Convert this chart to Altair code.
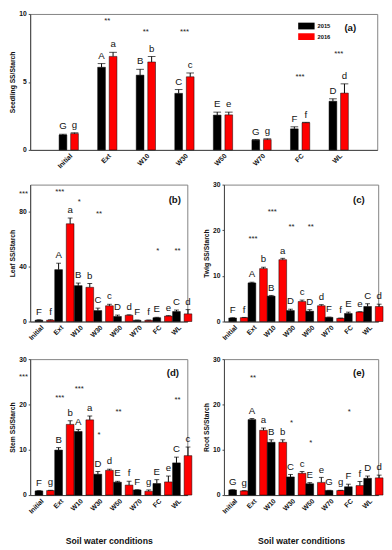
import altair as alt
import pandas as pd

categories = ["Initial", "Ext", "W10", "W30", "W50", "W70", "FC", "WL"]
years = ["2015", "2016"]

# (a) Seedling
seed_m15 = [1.10, 6.08, 5.50, 4.16, 2.56, 0.72, 1.55, 3.58]
seed_e15 = [0.06, 0.27, 0.43, 0.28, 0.22, 0.05, 0.15, 0.18]
seed_m16 = [1.20, 6.88, 6.47, 5.38, 2.58, 0.76, 2.00, 4.18]
seed_e16 = [0.06, 0.30, 0.40, 0.28, 0.20, 0.06, 0.03, 0.68]
seed_l15 = ["G", "A", "B", "C", "E", "G", "F", "D"]
seed_l16 = ["g", "a", "b", "c", "e", "g", "f", "d"]
seed_star_cat = ["Ext", "W10", "W30", "FC", "WL"]
seed_star_lab = ["**", "**", "***", "***", "***"]
seed_star_y = [9.5, 8.7, 8.7, 5.35, 7.05]

# (b) Leaf
leaf_m15 = [1.0, 37.9, 26.2, 8.0, 3.7, 0.9, 2.8, 7.3]
leaf_e15 = [0.3, 4.7, 1.9, 1.8, 1.0, 0.2, 0.3, 1.1]
leaf_m16 = [1.0, 71.4, 25.0, 11.5, 4.6, 0.9, 4.0, 5.6]
leaf_e16 = [0.3, 4.2, 2.8, 1.1, 0.3, 0.2, 0.3, 3.1]
leaf_l15 = ["F", "A", "B", "C", "D", "F", "E", "C"]
leaf_l16 = ["f", "a", "b", "c", "d", "f", "e", "d"]
leaf_star_cat = ["Ext", "W10", "W30", "FC", "WL"]
leaf_star_lab = ["***", "*", "**", "*", "**"]
leaf_star_y = [94.8, 87.0, 78.5, 51.3, 51.5]
leaf_side_lab = ["***"]
leaf_side_y = [93.0]

# (c) Twig
twig_m15 = [0.78, 8.47, 5.57, 2.40, 2.26, 0.92, 1.76, 3.30]
twig_e15 = [0.05, 0.15, 0.15, 0.30, 0.34, 0.05, 0.30, 0.60]
twig_m16 = [0.85, 11.6, 13.55, 4.38, 3.46, 0.70, 2.10, 3.30]
twig_e16 = [0.05, 0.30, 0.30, 0.32, 0.24, 0.05, 0.05, 0.50]
twig_l15 = ["F", "A", "B", "D", "D", "F", "E", "C"]
twig_l16 = ["f", "b", "a", "c", "d", "f", "e", "d"]
twig_star_cat = ["Ext", "W10", "W30", "W50"]
twig_star_lab = ["***", "***", "**", "**"]
twig_star_y = [18.1, 23.9, 20.6, 20.6]

# (d) Stem
stem_m15 = [0.92, 9.93, 14.04, 4.60, 2.84, 1.13, 2.55, 7.10]
stem_e15 = [0.05, 0.55, 0.45, 0.60, 0.20, 0.05, 0.85, 1.27]
stem_m16 = [1.00, 15.6, 16.6, 5.46, 2.20, 0.85, 2.90, 8.70]
stem_e16 = [0.05, 0.80, 0.85, 0.25, 0.85, 0.28, 1.30, 1.90]
stem_l15 = ["F", "B", "A", "D", "E", "F", "E", "C"]
stem_l16 = ["g", "b", "a", "d", "f", "g", "e", "c"]
stem_star_cat = ["Ext", "W10", "W30", "W50", "WL"]
stem_star_lab = ["***", "***", "*", "**", "**"]
stem_star_y = [21.5, 23.5, 13.3, 18.4, 21.0]
stem_side_lab = ["***"]
stem_side_y = [26.0]

# (e) Root
root_m15 = [1.13, 16.65, 11.65, 4.00, 2.50, 1.00, 1.83, 3.70]
root_e15 = [0.05, 0.25, 0.55, 0.55, 0.25, 0.05, 0.57, 0.50]
root_m16 = [0.92, 14.3, 11.65, 4.80, 2.80, 1.00, 2.10, 3.80]
root_e16 = [0.05, 0.50, 0.55, 0.40, 1.10, 0.05, 0.90, 0.60]
root_l15 = ["G", "A", "B", "C", "E", "G", "F", "D"]
root_l16 = ["g", "a", "b", "c", "e", "g", "f", "d"]
root_star_cat = ["Ext", "W30", "W50", "FC"]
root_star_lab = ["**", "*", "*", "*"]
root_star_y = [25.8, 15.9, 11.4, 18.4]

FONT = "Liberation Sans"
COLORS = ["#000000", "#ff0000"]


def panel(m15, e15, m16, e16, l15, l16, scat, slab, sy, ytitle, ymax, yticks,
          w, h, tag, tagx, tagy, pad_outer, off_pad, capw,
          xtitle=None, side_lab=None, side_y=None, legend=False):
    rows = []
    for i, c in enumerate(categories):
        rows.append(dict(cond=c, year="2015", mean=m15[i], err=e15[i],
                         top=m15[i] + e15[i], letter=l15[i]))
        rows.append(dict(cond=c, year="2016", mean=m16[i], err=e16[i],
                         top=m16[i] + e16[i], letter=l16[i]))
    df = pd.DataFrame(rows)
    xaxis = alt.Axis(labelAngle=-45, labelFontSize=7, labelFontWeight="bold",
                     ticks=False, labelPadding=2, titleFontSize=9,
                     titleFontWeight="bold", titlePadding=23)
    x = alt.X("cond:N", sort=categories, title=xtitle,
              scale=alt.Scale(paddingInner=0.5, paddingOuter=pad_outer),
              axis=xaxis)
    xo = alt.XOffset("year:N", sort=years,
                     scale=alt.Scale(paddingInner=off_pad, paddingOuter=0))
    ysc = alt.Scale(domain=[0, ymax], nice=False, zero=True)
    yaxis = alt.Axis(values=yticks, labelFontSize=7, labelFontWeight="bold",
                     titleFontSize=7, titleFontWeight="bold", tickSize=2,
                     labelPadding=2, titleX=-15, titleY=h / 2)
    color = alt.Color("year:N", sort=years,
                      scale=alt.Scale(domain=years, range=COLORS),
                      legend=None)
    base = alt.Chart(df)
    bars = base.mark_bar(stroke="black", strokeWidth=0.5).encode(
        x=x, xOffset=xo,
        y=alt.Y("mean:Q", scale=ysc, axis=yaxis, title=ytitle),
        color=color)
    rule = base.mark_rule(color="black", strokeWidth=1).encode(
        x=x, xOffset=xo,
        y=alt.Y("mean:Q", title=ytitle), y2="top:Q")
    cap = base.mark_tick(color="black", thickness=1, size=capw, orient="horizontal").encode(
        x=x, xOffset=xo, y=alt.Y("top:Q", title=ytitle))
    letters = base.mark_text(baseline="bottom", dy=-3, fontSize=10, font=FONT,
                             color="#111").encode(
        x=x, xOffset=xo, y=alt.Y("top:Q", title=ytitle), text="letter:N")
    sdf = pd.DataFrame(dict(cond=scat, lab=slab, y=sy))
    stars = alt.Chart(sdf).mark_text(fontSize=8, font=FONT, color="#222",
                                     baseline="middle").encode(
        x=x, y=alt.Y("y:Q", title=ytitle), text="lab:N")
    tdf = pd.DataFrame(dict(t=[tag]))
    tagm = alt.Chart(tdf).mark_text(fontSize=10, fontWeight="bold", font=FONT,
                                    color="#111").encode(
        x=alt.value(tagx), y=alt.value(tagy), text="t:N")
    layers = [bars, rule, cap, letters, stars, tagm]
    if side_lab:
        sd = pd.DataFrame(dict(lab=side_lab, y=side_y))
        layers.append(alt.Chart(sd).mark_text(fontSize=8, font=FONT, color="#222",
                                              baseline="middle").encode(
            x=alt.value(-7), y=alt.Y("y:Q", title=ytitle), text="lab:N"))
    if legend:
        # legend swatches and labels (top-right of panel a)
        for k, yr in enumerate(years):
            ld = pd.DataFrame(dict(year=[yr]))
            layers.append(alt.Chart(ld).mark_rect(color=COLORS[k]).encode(
                x=alt.value(278), x2=alt.value(295),
                y=alt.value(9 + 11 * k), y2=alt.value(16 + 11 * k)))
            layers.append(alt.Chart(ld).mark_text(
                fontSize=6, fontWeight="bold", font=FONT, color="#111",
                align="left", baseline="middle").encode(
                x=alt.value(298), y=alt.value(12.5 + 11 * k), text="year:N"))
    return alt.layer(*layers).properties(width=w, height=h)


pa = panel(seed_m15, seed_e15, seed_m16, seed_e16, seed_l15, seed_l16,
           seed_star_cat, seed_star_lab, seed_star_y, "Seedling SS/Starch",
           10, [0, 5, 10], 360, 141, "(a)", 332, 15, 0.75, 0.33, 8, legend=True)
pb = panel(leaf_m15, leaf_e15, leaf_m16, leaf_e16, leaf_l15, leaf_l16,
           leaf_star_cat, leaf_star_lab, leaf_star_y, "Leaf SS/Starch",
           100, [0, 20, 40, 60, 80, 100], 163, 142, "(b)", 150, 16, 0.25, 0.1, 5,
           side_lab=leaf_side_lab, side_y=leaf_side_y)
pc = panel(twig_m15, twig_e15, twig_m16, twig_e16, twig_l15, twig_l16,
           twig_star_cat, twig_star_lab, twig_star_y, "Twig SS/Starch",
           30, [0, 10, 20, 30], 160, 142, "(c)", 140, 16, 0.25, 0.1, 5)
pd_ = panel(stem_m15, stem_e15, stem_m16, stem_e16, stem_l15, stem_l16,
            stem_star_cat, stem_star_lab, stem_star_y, "Stem SS/Starch",
            30, [0, 10, 20, 30], 163, 141, "(d)", 148, 15, 0.25, 0.1, 5,
            xtitle="Soil water conditions",
            side_lab=stem_side_lab, side_y=stem_side_y)
pe = panel(root_m15, root_e15, root_m16, root_e16, root_l15, root_l16,
           root_star_cat, root_star_lab, root_star_y, "Root SS/Starch",
           30, [0, 10, 20, 30], 160, 141, "(e)", 140, 15, 0.25, 0.1, 5,
           xtitle="Soil water conditions")

row2 = alt.hconcat(pb, pc, spacing=9)
row3 = alt.hconcat(pd_, pe, spacing=9)
lower = alt.vconcat(row2, row3, spacing=13)

chart = alt.vconcat(pa, lower, spacing=10).properties(
    padding={"top": -9, "left": 0, "right": 0, "bottom": 0}
).configure_view(
    stroke="#808080", strokeWidth=1
).configure_axis(
    labelFont=FONT, titleFont=FONT, domainColor="#444", tickColor="#444",
    labelColor="#111", titleColor="#111", grid=False
).configure_text(font=FONT)

chart.save("out.html", embed_options={"renderer": "svg", "actions": False})
